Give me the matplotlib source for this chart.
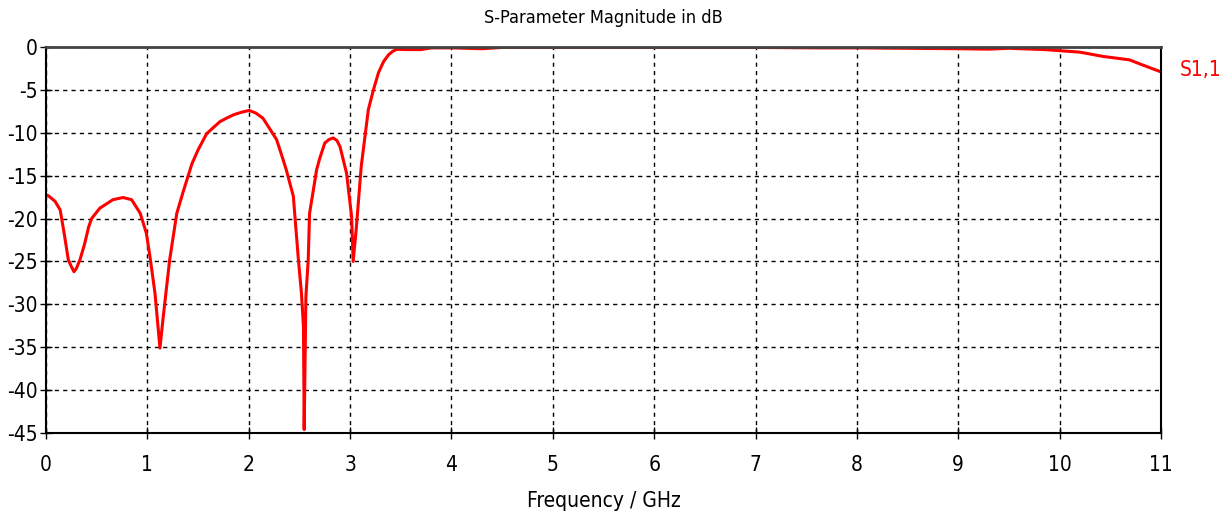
import numpy as np
import matplotlib
matplotlib.use("Agg")
import matplotlib.pyplot as plt

plt.rcParams['font.family'] = ['DejaVu Sans']
plt.rcParams['font.stretch'] = 'condensed'

# S1,1 magnitude
freq_ghz = [0.0, 0.03, 0.06, 0.09, 0.11, 0.14, 0.18, 0.22, 0.25, 0.276, 0.30, 0.335, 0.38,
            0.42, 0.45, 0.53, 0.66, 0.76, 0.845, 0.93, 0.99,
            1.03, 1.075, 1.124, 1.157, 1.22, 1.29, 1.35, 1.44, 1.5, 1.585, 1.65, 1.716,
            1.78, 1.85, 1.93, 2.005, 2.07, 2.14, 2.2, 2.275, 2.33, 2.37, 2.44, 2.49,
            2.52, 2.54, 2.547, 2.564, 2.587, 2.60, 2.67, 2.7, 2.75, 2.79, 2.833, 2.87,
            2.9, 2.965, 3.015, 3.03, 3.06, 3.11, 3.18, 3.23, 3.28, 3.33, 3.38, 3.42,
            3.46, 3.55, 3.7, 3.8, 4.0, 4.3, 4.5, 5.0, 6.0, 7.0, 7.6, 8.0, 9.0, 9.3,
            9.5, 9.85, 10.2, 10.43, 10.69, 10.82, 11.0]
s11_db = [-17.2, -17.4, -17.7, -18.0, -18.4, -19.0, -21.8, -24.8, -25.6, -26.2, -25.8,
          -24.8, -23.0, -21.0, -20.0, -18.8, -17.8, -17.55, -17.8, -19.4, -21.7,
          -24.8, -28.7, -35.1, -31.4, -24.8, -19.4, -17.0, -13.6, -12.0, -10.1, -9.4,
          -8.7, -8.3, -7.9, -7.6, -7.4, -7.7, -8.3, -9.4, -10.8, -12.8, -14.3, -17.4,
          -24.8, -28.7, -32.6, -44.6, -29.1, -24.8, -19.4, -14.3, -13.0, -11.2, -10.8,
          -10.6, -10.9, -11.6, -14.7, -19.8, -25.0, -21.3, -13.9, -7.3, -5.0, -3.0,
          -1.7, -0.9, -0.5, -0.27, -0.3, -0.3, -0.1, -0.1, -0.2, -0.05, -0.05, -0.05,
          -0.05, -0.1, -0.1, -0.2, -0.25, -0.15, -0.3, -0.6, -1.1, -1.5, -2.1, -2.9]

x_ticks = list(range(0, 12))
y_ticks = list(range(0, -50, -5))

fig = plt.figure(figsize=(12.27, 5.2), dpi=100)
ax = fig.add_axes([0.0375, 0.1673, 0.9087, 0.7423])

ax.plot(freq_ghz, s11_db, color="#ff0000", lw=2.2, solid_joinstyle="round")

ax.set_xlim(0, 11)
ax.set_ylim(-45, 0)
ax.set_xticks(x_ticks)
ax.set_yticks(y_ticks)
ax.set_xticklabels([str(t) for t in x_ticks])
ax.set_yticklabels([str(t) for t in y_ticks])
ax.tick_params(direction="inout", length=8, width=1, labelsize=15, colors="black")
ax.tick_params(axis="x", pad=12)
ax.tick_params(axis="y", pad=2)

ax.grid(True, color="black", linestyle=(0, (3, 3)), linewidth=1)
for side in ["left", "bottom", "right"]:
    ax.spines[side].set_linewidth(1.5)
    ax.spines[side].set_color("black")
ax.spines["top"].set_linewidth(2)
ax.spines["top"].set_color("#444444")

ax.set_title("S-Parameter Magnitude in dB", fontsize=13, pad=17)
ax.set_xlabel("Frequency / GHz", fontsize=15, labelpad=11)

ax.text(1.0165, 0.94, "S1,1", transform=ax.transAxes, color="#ff0000", fontsize=15,
        ha="left", va="center")

fig.savefig("out.png", dpi=100)
